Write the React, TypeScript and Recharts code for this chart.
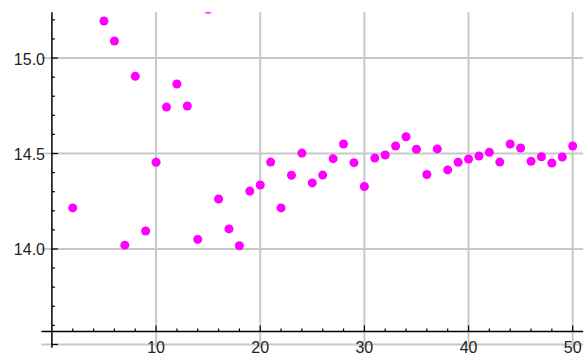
import React from "react";
import {
  ScatterChart,
  Scatter,
  XAxis,
  YAxis,
  ZAxis,
  CartesianGrid,
  ReferenceLine,
} from "recharts";

// sample index and measured value (points above the plot range are not visible)
const xs = [
  2, 5, 6, 7, 8, 9, 10, 11, 12, 13, 14, 15, 16, 17, 18, 19, 20, 21, 22, 23, 24,
  25, 26, 27, 28, 29, 30, 31, 32, 33, 34, 35, 36, 37, 38, 39, 40, 41, 42, 43,
  44, 45, 46, 47, 48, 49, 50,
];
const ys = [
  14.215, 15.194, 15.089, 14.02, 14.904, 14.094, 14.454, 14.743, 14.864, 14.749,
  14.05, 15.255, 14.262, 14.105, 14.017, 14.303, 14.335, 14.455, 14.215, 14.386,
  14.502, 14.346, 14.387, 14.473, 14.55, 14.452, 14.327, 14.476, 14.492, 14.539,
  14.588, 14.522, 14.39, 14.524, 14.414, 14.454, 14.471, 14.487, 14.506, 14.455,
  14.55, 14.529, 14.459, 14.483, 14.45, 14.482, 14.539,
];

const xTicks = [
  2, 4, 6, 8, 10, 12, 14, 16, 18, 20, 22, 24, 26, 28, 30, 32, 34, 36, 38, 40,
  42, 44, 46, 48, 50,
];
const xGrid = [10, 20, 30, 40, 50];
const yTicks = [
  13.5, 13.6, 13.7, 13.8, 13.9, 14.0, 14.1, 14.2, 14.3, 14.4, 14.5, 14.6, 14.7,
  14.8, 14.9, 15.0, 15.1, 15.2,
];
const yLabels = [14.0, 14.5, 15.0];
const yGrid = [13.5, 14.0, 14.5, 15.0];

const X_DOMAIN: [number, number] = [-1, 51];
const Y_DOMAIN: [number, number] = [13.483, 15.24];
const AXIS_Y = 13.568; // where the horizontal axis crosses

const W = 584;
const H = 353;
const AXIS_SIZE = 1;
const M = { top: 12.2, right: 0.9, bottom: 5.3 - AXIS_SIZE, left: 41.5 - AXIS_SIZE };

const plotLeft = M.left + AXIS_SIZE;
const plotW = W - plotLeft - M.right;
const plotH = H - M.top - M.bottom - AXIS_SIZE;
const axisPxY =
  M.top + ((Y_DOMAIN[1] - AXIS_Y) / (Y_DOMAIN[1] - Y_DOMAIN[0])) * plotH;
const axisPxX =
  plotLeft + ((0 - X_DOMAIN[0]) / (X_DOMAIN[1] - X_DOMAIN[0])) * plotW;

const data = xs.map((x, i) => ({ x, y: ys[i] }));

const font = "'Liberation Sans', Arial, sans-serif";

const XTick = (props: any) => {
  const { x, payload } = props;
  const v = payload.value;
  const major = v % 10 === 0;
  return (
    <g>
      <line
        x1={x}
        x2={x}
        y1={axisPxY}
        y2={axisPxY - (major ? 6 : 3)}
        stroke="#000"
        strokeWidth={1.2}
      />
      {major && (
        <text
          x={x}
          y={axisPxY + 22}
          textAnchor="middle"
          fontSize={16}
          fontFamily={font}
          fill="#222"
        >
          {v}
        </text>
      )}
    </g>
  );
};

const YTick = (props: any) => {
  const { y, payload } = props;
  const v = payload.value;
  const major = Math.abs(v * 2 - Math.round(v * 2)) < 1e-6;
  const label = yLabels.some((l) => Math.abs(l - v) < 1e-6);
  return (
    <g>
      <line
        x1={axisPxX}
        x2={axisPxX + (major ? 6 : 3)}
        y1={y}
        y2={y}
        stroke="#000"
        strokeWidth={1.2}
      />
      {label && (
        <text
          x={45}
          y={y + 6.5}
          textAnchor="end"
          fontSize={16}
          fontFamily={font}
          fill="#222"
        >
          {v.toFixed(1)}
        </text>
      )}
    </g>
  );
};

const App = () => {
  return (
    <div
      style={{
        position: "absolute",
        top: 0,
        left: 0,
        width: W,
        height: H,
        overflow: "hidden",
        background: "#fff",
      }}
    >
      <ScatterChart width={W} height={H} margin={M}>
        <CartesianGrid
          horizontalValues={yGrid}
          verticalValues={xGrid}
          stroke="#c8c8c8"
          strokeWidth={2}
        />
        <XAxis
          type="number"
          dataKey="x"
          domain={X_DOMAIN}
          ticks={xTicks}
          interval={0}
          allowDataOverflow
          height={AXIS_SIZE}
          axisLine={false}
          tickLine={false}
          tickSize={0}
          tick={<XTick />}
        />
        <YAxis
          type="number"
          dataKey="y"
          domain={Y_DOMAIN}
          ticks={yTicks}
          interval={0}
          allowDataOverflow
          width={AXIS_SIZE}
          axisLine={false}
          tickLine={false}
          tickSize={0}
          tick={<YTick />}
        />
        <ZAxis range={[64, 64]} />
        <ReferenceLine x={0} stroke="#000" strokeWidth={1.5} />
        <ReferenceLine y={AXIS_Y} stroke="#000" strokeWidth={1.5} />
        <Scatter data={data} fill="#ff00ff" isAnimationActive={false} />
      </ScatterChart>
    </div>
  );
};

export default App;
